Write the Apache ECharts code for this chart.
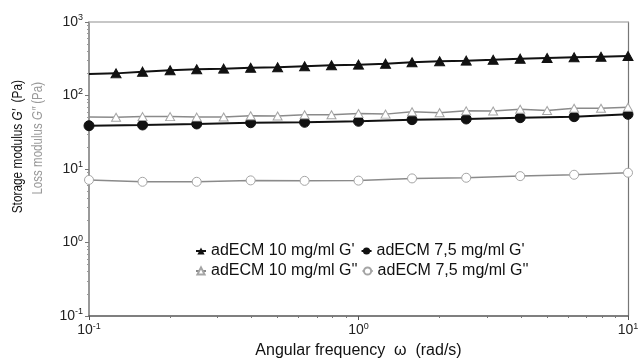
<!DOCTYPE html>
<html>
<head>
<meta charset="utf-8">
<script src="https://cdn.jsdelivr.net/npm/echarts@6/dist/echarts.min.js"></script>
<style>
  html, body { margin: 0; padding: 0; background: #fff; }
  #chart { width: 638px; height: 359px; }
</style>
</head>
<body>
<div id="chart"></div>
<script>
// angular frequency (rad/s), 10 points per decade
const omega10 = [0.1, 0.126, 0.158, 0.2, 0.251, 0.316, 0.398, 0.501, 0.631, 0.794,
  1, 1.26, 1.58, 2, 2.51, 3.16, 3.98, 5.01, 6.31, 7.94, 10];
// 5 points per decade
const omega75 = [0.1, 0.158, 0.251, 0.398, 0.631, 1, 1.58, 2.51, 3.98, 6.31, 10];

// adECM 10 mg/ml
const g1_10 = [196, 200, 211, 220, 227, 232, 239, 242, 250, 258, 263,
  271, 283, 292, 298, 307, 317, 324, 331, 337, 344];
const g2_10 = [51, 50.5, 51.6, 51.6, 50.8, 51, 53, 52.6, 54.8, 54.8, 57,
  55.8, 60, 58.4, 61.8, 61.5, 64.9, 62.5, 66.9, 66.9, 69];

// adECM 7,5 mg/ml
const g1_75 = [38.8, 39.7, 41.0, 42.6, 43.2, 44.6, 46.9, 47.9, 49.9, 51.5, 55.5];
const g2_75 = [7.1, 6.7, 6.7, 7.0, 6.9, 6.95, 7.45, 7.6, 8.0, 8.35, 8.9];

const names = ["adECM 10 mg/ml G'", "adECM 7,5 mg/ml G'", "adECM 10 mg/ml G''", "adECM 7,5 mg/ml G''"];

const FONT = "'Liberation Sans', Arial, sans-serif";

// first point of the 10 mg/ml runs has no marker (line only)
const pairs = (xs, ys, hideFirst) => xs.map((x, i) =>
  (hideFirst && i === 0) ? { value: [x, ys[i]], symbol: 'none' } : [x, ys[i]]);

const powLabel = (v) => {
  const e = Math.round(Math.log10(v));
  return '{b|10}{s|' + e + '}';
};

const labelRich = {
  b: { fontSize: 14, color: '#222', fontFamily: FONT },
  s: { fontSize: 9, color: '#222', fontFamily: FONT, verticalAlign: 'bottom', padding: [0, 0, 8, 0] }
};

const chart = echarts.init(document.getElementById('chart'), null, { renderer: 'canvas' });

const option = {
  animation: false,
  backgroundColor: '#fff',
  textStyle: { fontFamily: FONT },
  grid: { left: 89, top: 22, right: 10, bottom: 43, containLabel: false, outerBoundsMode: 'none' },
  legend: [
    {
      data: [names[0], names[1]],
      left: 195, top: 243, padding: 0,
      itemWidth: 10, itemHeight: 9, itemGap: 6,
      textStyle: { fontSize: 16, color: '#111', fontFamily: FONT }
    },
    {
      data: [names[2], names[3]],
      left: 195, top: 263, padding: 0,
      itemWidth: 10, itemHeight: 9, itemGap: 4,
      textStyle: { fontSize: 16, color: '#111', fontFamily: FONT }
    }
  ],
  xAxis: [
    {
      type: 'log', logBase: 10, min: 0.1, max: 10, interval: 1,
      axisLine: { show: true, lineStyle: { color: '#555', width: 1.5 } },
      axisTick: { show: true, inside: false, length: 4, lineStyle: { color: '#555' } },
      minorTick: { show: true, splitNumber: 9, length: 2, lineStyle: { color: '#777' } },
      splitLine: { show: false },
      axisLabel: { formatter: powLabel, rich: labelRich, margin: 6 },
      name: 'Angular frequency  \u03c9  (rad/s)',
      nameLocation: 'middle', nameGap: 27,
      nameTextStyle: { fontSize: 16, color: '#111', fontFamily: FONT }
    },
    {
      type: 'log', logBase: 10, min: 0.1, max: 10, position: 'top',
      axisLine: { show: true, lineStyle: { color: '#b5b5b5', width: 1.5 } },
      axisTick: { show: false }, axisLabel: { show: false }, splitLine: { show: false }
    }
  ],
  yAxis: [
    {
      type: 'log', logBase: 10, min: 0.1, max: 1000, interval: 1,
      axisLine: { show: true, lineStyle: { color: '#777', width: 1.5 } },
      axisTick: { show: true, inside: false, length: 4, lineStyle: { color: '#777' } },
      minorTick: { show: true, splitNumber: 9, length: 2, lineStyle: { color: '#999' } },
      splitLine: { show: false },
      axisLabel: { formatter: powLabel, rich: labelRich, margin: 6 }
    },
    {
      type: 'log', logBase: 10, min: 0.1, max: 1000, position: 'right',
      axisLine: { show: true, lineStyle: { color: '#777', width: 1.2 } },
      axisTick: { show: false }, axisLabel: { show: false }, splitLine: { show: false }
    }
  ],
  graphic: [
    {
      // condensed look: squeeze along the text direction
      type: 'text', x: 18, y: 80, rotation: Math.PI / 2, scaleX: 0.79,
      style: {
        text: '{n|Storage modulus }{i|G\u2032}{n|  (Pa)}',
        align: 'right', verticalAlign: 'middle',
        rich: {
          n: { fontSize: 15, fill: '#111', fontFamily: FONT },
          i: { fontSize: 15, fill: '#111', fontFamily: FONT, fontStyle: 'italic' }
        }
      }
    },
    {
      type: 'text', x: 38, y: 82, rotation: Math.PI / 2, scaleX: 0.77,
      style: {
        text: '{n|Loss modulus }{i|G\u2033}{n| (Pa)}',
        align: 'right', verticalAlign: 'middle',
        rich: {
          n: { fontSize: 15, fill: '#9a9a9a', fontFamily: FONT },
          i: { fontSize: 15, fill: '#9a9a9a', fontFamily: FONT, fontStyle: 'italic' }
        }
      }
    }
  ],
  series: [
    {
      name: names[0], type: 'line', clip: false,
      data: pairs(omega10, g1_10, true),
      symbol: 'triangle', symbolSize: [10, 9],
      lineStyle: { color: '#111', width: 2 },
      itemStyle: { color: '#111', borderColor: '#111' }
    },
    {
      name: names[1], type: 'line', clip: false,
      data: pairs(omega75, g1_75, false),
      symbol: 'circle', symbolSize: 10,
      lineStyle: { color: '#111', width: 2 },
      itemStyle: { color: '#111', borderColor: '#111' }
    },
    {
      name: names[2], type: 'line', clip: false,
      data: pairs(omega10, g2_10, true),
      symbol: 'triangle', symbolSize: [9, 8],
      lineStyle: { color: '#8a8a8a', width: 1.5 },
      itemStyle: { color: '#fff', borderColor: '#a5a5a5', borderWidth: 1 }
    },
    {
      name: names[3], type: 'line', clip: false,
      data: pairs(omega75, g2_75, false),
      symbol: 'circle', symbolSize: 9,
      lineStyle: { color: '#8a8a8a', width: 1.5 },
      itemStyle: { color: '#fff', borderColor: '#a5a5a5', borderWidth: 1 }
    }
  ]
};

chart.setOption(option);
window.addEventListener('resize', () => chart.resize());
</script>
</body>
</html>
